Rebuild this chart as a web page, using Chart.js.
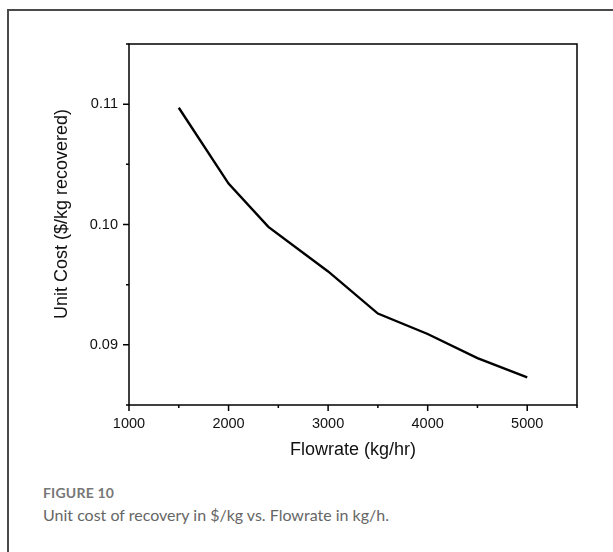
<!DOCTYPE html>
<html>
<head>
<meta charset="utf-8">
<script src="https://cdn.jsdelivr.net/npm/chart.js@4/dist/chart.umd.min.js"></script>
<style>
  html, body { margin: 0; padding: 0; background: #fff; width: 613px; height: 552px; overflow: hidden; }
  #frame { position: absolute; left: 7px; top: 9px; width: 640px; height: 600px; border: 2px solid #4a4a4a; box-sizing: border-box; }
  #wrap { position: absolute; left: 0; top: 0; width: 613px; height: 470px; }
  .cap { position: absolute; left: 43px; font-family: Lato, "Open Sans", sans-serif; line-height: 1.2; white-space: nowrap; }
  #figlabel { top: 485px; font-size: 14px; font-weight: bold; color: #777; letter-spacing: 0.2px; }
  #figtext { top: 505px; font-size: 16px; color: #666; }
</style>
</head>
<body>
<div id="frame"></div>
<div id="wrap"><canvas id="c" width="613" height="470"></canvas></div>
<div class="cap" id="figlabel">FIGURE 10</div>
<div class="cap" id="figtext">Unit cost of recovery in $/kg vs. Flowrate in kg/h.</div>
<script>
// Data
const flowrate = [1500, 2000, 2400, 3000, 3500, 4000, 4500, 5000];
const unitCost = [0.1097, 0.1034, 0.0998, 0.0961, 0.0926, 0.0909, 0.0889, 0.0873];
const xTickValues = [1000, 2000, 3000, 4000, 5000];
const yTickValues = [0.09, 0.10, 0.11];
const xTitle = "Flowrate (kg/hr)";
const yTitle = "Unit Cost ($/kg recovered)";

const FONT = "'Liberation Sans', Arial, sans-serif";

const frameTicks = {
  id: 'frameTicks',
  afterDraw(chart) {
    const ctx = chart.ctx;
    const a = chart.chartArea;
    const xs = chart.scales.x, ys = chart.scales.y;
    ctx.save();
    ctx.strokeStyle = '#000';
    ctx.lineWidth = 1.5;
    ctx.strokeRect(a.left, a.top, a.right - a.left, a.bottom - a.top);
    ctx.beginPath();
    for (let v = xs.min; v <= xs.max + 1e-9; v += 500) {
      const major = xTickValues.includes(v);
      const px = xs.getPixelForValue(v);
      ctx.moveTo(px, a.bottom);
      ctx.lineTo(px, a.bottom + (major ? 6 : 3));
    }
    for (let i = 0; i <= 6; i++) {
      const v = ys.min + i * 0.005;
      const major = yTickValues.some(t => Math.abs(t - v) < 1e-6);
      const py = ys.getPixelForValue(v);
      ctx.moveTo(a.left, py);
      ctx.lineTo(a.left - (major ? 6 : 3), py);
    }
    ctx.stroke();
    // y-axis title
    ctx.fillStyle = '#111';
    ctx.font = "18px " + FONT;
    ctx.textAlign = 'center';
    ctx.textBaseline = 'middle';
    ctx.translate(62, 214);
    ctx.rotate(-Math.PI / 2);
    ctx.fillText(yTitle, 0, 0);
    ctx.restore();
  }
};

new Chart(document.getElementById('c'), {
  type: 'line',
  data: {
    datasets: [{
      data: flowrate.map((x, i) => ({ x: x, y: unitCost[i] })),
      borderColor: '#000',
      borderWidth: 2.4,
      pointRadius: 0,
      tension: 0,
      fill: false
    }]
  },
  options: {
    responsive: false,
    animation: false,
    layout: { padding: { top: 44, right: 36, left: 0, bottom: 0 } },
    plugins: { legend: { display: false }, tooltip: { enabled: false } },
    scales: {
      x: {
        type: 'linear',
        min: 1000, max: 5500,
        grid: { display: false, drawTicks: false },
        border: { display: false },
        ticks: {
          stepSize: 500,
          autoSkip: false,
          maxRotation: 0,
          padding: 10,
          color: '#111',
          font: { family: FONT, size: 14.5 },
          callback: v => xTickValues.includes(v) ? String(v) : ''
        },
        title: {
          display: true, text: xTitle, color: '#111',
          font: { family: FONT, size: 18 },
          padding: { top: 0, bottom: 9 }
        },
        afterFit: s => { s.height = 65; }
      },
      y: {
        type: 'linear',
        min: 0.085, max: 0.115,
        grid: { display: false, drawTicks: false },
        border: { display: false },
        ticks: {
          stepSize: 0.005,
          autoSkip: false,
          padding: 11,
          color: '#111',
          font: { family: FONT, size: 14.5 },
          callback: v => yTickValues.some(t => Math.abs(t - v) < 1e-6) ? v.toFixed(2) : ''
        },
        afterFit: s => { s.width = 129; }
      }
    }
  },
  plugins: [frameTicks]
});
</script>
</body>
</html>
